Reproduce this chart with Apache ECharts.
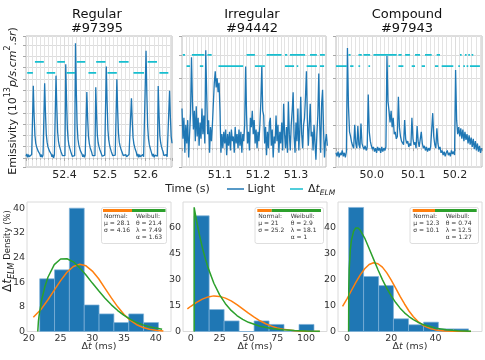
<!DOCTYPE html>
<html><head><meta charset="utf-8">
<script src="https://cdn.jsdelivr.net/npm/echarts@6/dist/echarts.min.js"></script>
<style>html,body{margin:0;padding:0;background:#fff}#c{width:485px;height:360px}</style>
</head><body><div id="c"></div>
<script>
// ================= DATA =================
const panelTitles = ['Regular\n#97395', 'Irregular\n#94442', 'Compound\n#97943'];

// Light emissivity signals (regularly sampled)
const regularT0 = 52.305, regularDt = 0.002;
const regularLight = [0.15,0.35,0.05,0.3,0.1,0.25,0.0,0.3,0.15,
 6.40,3.8,2.0,1.3,1.0,0.8,0.6,0.45,0.35,
 0.1,0.3,0.05,0.25,0.15,
 6.62,4.0,2.1,1.4,1.0,0.8,0.6,0.5,0.35,
 0.1,0.3,0.0,0.25,0.2,
 7.29,4.4,2.3,1.5,1.1,0.85,0.6,0.45,
 0.2,0.35,0.05,0.2,
 8.30,5.0,2.6,1.6,1.1,0.85,0.6,0.45,
 0.15,0.3,0.05,0.2,
 10.16,6.0,3.0,1.7,1.2,0.9,0.65,0.5,0.35,
 0.1,0.3,0.05,0.25,0.15,
 5.85,3.5,1.9,1.3,0.95,0.7,0.5,
 0.2,0.35,0.05,0.2,
 6.26,3.8,2.0,1.35,1.0,0.75,0.55,0.4,
 0.15,0.3,0.0,0.25,0.15,
 8.09,4.9,2.5,1.6,1.15,0.85,0.6,0.45,
 0.2,0.35,0.05,0.25,0.15,
 6.97,4.2,2.2,1.4,1.05,0.8,0.6,0.45,
 0.2,0.35,0.05,0.3,0.1,0.25,0.0,0.3,0.15,0.2,
 5.29,3.3,1.8,1.25,0.95,0.7,0.5,
 0.15,0.35,0.05,0.3,0.1,0.25,0.0,0.3,0.1,0.25,0.15,
 9.50,5.6,2.8,1.7,1.2,0.9,0.65,0.5,
 0.15,0.35,0.05,0.25,0.1,0.3,0.15,
 6.38,3.9,2.0,1.35,1.0,0.75,0.55,
 0.2,0.35,0.05,0.3,0.1,0.25,0.15,
 5.96,3.6,1.9,1.3];

const irregularT0 = 51.0, irregularDt = 0.0025;
const irregularLight = [1.7,0.4,1.3,-0.2,1.0,0.2,1.2,-0.4,0.6,1.5,
 3.9,2.0,0.8,1.6,0.3,1.8,0.5,1.3,0.1,1.1,
 0.4,1.7,0.6,1.4,0.2,4.2,2.3,0.6,1.2,-0.2,
 0.9,0.3,1.0,1.9,2.8,3.3,2.6,3.0,2.4,2.8,
 1.6,-0.2,0.6,0.0,0.7,0.2,0.8,-0.3,0.6,0.1,
 0.7,-0.1,0.8,0.3,0.5,-0.2,0.9,0.2,0.6,0.0,
 0.8,0.1,0.7,-0.2,0.6,0.3,1.0,3.5,1.4,0.2,
 0.7,-0.1,1.3,0.9,1.6,0.6,1.2,0.2,0.8,0.0,
 0.7,0.3,1.0,2.0,3.5,1.6,1.4,0.2,0.9,-0.3,
 0.7,0.0,1.1,1.3,0.1,0.8,-0.4,0.5,0.2,1.4,
 0.3,1.0,-0.2,0.7,0.2,1.1,-0.1,1.9,0.6,0.0,
 0.9,-0.2,2.0,0.6,-0.1,1.0,1.6,2.4,0.5,-0.2,
 1.1,0.3,1.7,-0.1,0.8,2.2,0.6,0.0,1.0,1.3,
 2.2,3.3,1.2,0.1,1.0,1.9,0.5,0.7,-0.1,1.0,
 0.2,-0.5,0.6,1.4,3.2,1.0,-0.2,1.9,2.5,0.8,
 -0.4,0.3,0.6,0.1];

const compoundT0 = 49.914, compoundDt = 0.0025;
const compoundLight = [-0.2,-0.35,-0.15,-0.4,-0.2,-0.3,-0.1,-0.35,-0.2,-0.4,-0.15,
 4.3,1.8,0.7,0.5,0.25,0.1,0.0,
 1.0,0.2,0.0,0.95,0.15,0.0,1.05,0.2,0.05,-0.05,0.1,-0.1,0.05,
 2.3,0.7,0.3,0.1,-0.05,
 0.05,-0.15,0.0,-0.2,0.05,-0.1,0.0,-0.2,0.05,-0.15,0.0,-0.1,0.05,
 3.95,2.0,1.6,1.1,1.6,0.9,1.3,0.6,0.7,0.4,0.5,
 2.2,0.9,0.5,0.3,0.35,0.15,
 1.2,0.4,0.2,0.3,0.05,0.2,0.1,
 1.3,0.4,0.15,0.25,0.0,
 0.95,0.3,0.05,0.1,0.7,0.2,0.0,0.1,-0.1,0.05,-0.15,0.0,-0.1,0.05,0.1,
 1.5,0.5,0.15,0.0,0.85,0.2,-0.05,0.05,
 -0.2,-0.1,-0.3,-0.15,-0.35,-0.2,-0.1,-0.3,-0.2,-0.35,-0.1,-0.25,-0.15,-0.3,
 3.35,1.2,0.6,0.9,0.5,0.85,0.4,0.8,0.3,0.7,0.35,0.6,0.2,0.55,0.15,0.45,0.05,0.4,-0.05,0.3,-0.1,0.2,-0.15,0.1,-0.2,0.0];

// Delta t_ELM markers: [start, end] times at two levels
const regularDtLevels = [8.5, 7.53];
const regularDtUpper = [[52.327,52.349],[52.382,52.401],[52.430,52.451],[52.478,52.501],[52.534,52.558],[52.605,52.628]];
const regularDtLower = [[52.308,52.322],[52.356,52.377],[52.405,52.426],[52.459,52.478],[52.506,52.529],[52.570,52.596],[52.634,52.656]];
const irregularDtLevels = [4.0, 3.52];
const irregularDtUpper = [[51.002,51.008],[51.026,51.059],[51.067,51.078],[51.170,51.192],[51.223,51.262],[51.271,51.277],[51.284,51.324],[51.337,51.355],[51.363,51.376]];
const irregularDtLower = [[51.012,51.021],[51.047,51.056],[51.096,51.161],[51.192,51.218],[51.271,51.295],[51.302,51.306],[51.328,51.355],[51.363,51.374]];
const compoundDtLevels = [4.0, 3.52];
const compoundDtUpper = [[49.944,49.949],[49.968,49.976],[49.980,49.996],[50.004,50.060],[50.064,50.072],[50.080,50.092],[50.104,50.116],[50.128,50.144],[50.156,50.164],[50.212,50.216],[50.224,50.228],[50.232,50.236],[50.240,50.244]];
const compoundDtLower = [[49.914,49.940],[49.948,49.956],[49.968,49.972],[49.992,49.996],[50.040,50.044],[50.064,50.076],[50.096,50.104],[50.120,50.128],[50.152,50.160],[50.168,50.196],[50.208,50.212],[50.220,50.224],[50.228,50.232],[50.236,50.260]];

// Histograms (bin edges in ms, density %)
const regularEdges = [21.7,24.04,26.38,28.72,31.06,33.4,35.74,38.08,40.42];
const regularHist = [17.1,20.0,40.0,8.6,5.7,2.9,5.7,2.9];
const irregularEdges = [2.9,15.9,28.9,41.9,54.9,67.9,80.9,93.9,106.9];
const irregularHist = [66.9,12.7,6.1,0,6.1,4.1,0,4.1];
const compoundEdges = [0.74,7.5,14.3,21.0,27.8,34.6,41.3,48.1,54.9];
const compoundHist = [47.8,21.2,17.7,4.9,2.6,3.6,1.0,1.0];

// Fitted curves: [dt, density]
const regularNormal = [[20.7,4.6],[21,5.1],[22,7.4],[23,10.3],[24,13.4],[25,16.5],[26,19.2],[27,21.1],[28,21.8],[29,21.3],[30,19.6],[31,17.1],[32,14.0],[33,10.9],[34,8.0],[35,5.5],[36,3.6],[37,2.2],[38,1.3],[39,0.7],[40,0.4],[41.2,0.15]];
const regularWeibull = [[21.4,0],[21.5,3.3],[21.6,5.1],[22,10.1],[22.5,14.4],[23,17.6],[24,21.7],[25,23.5],[26,23.6],[27,22.6],[28,20.7],[29,18.3],[30,15.7],[31,13.2],[32,10.8],[33,8.65],[34,6.8],[35,5.2],[36,3.95],[37,2.9],[38,2.15],[39,1.55],[40,1.1],[41,0.76]];
const irregularNormal = [[-3,13.1],[0,14.6],[5,16.8],[10,18.7],[15,20.0],[20,20.6],[25,20.3],[30,19.3],[35,17.7],[40,15.5],[45,13.1],[50,10.6],[55,8.3],[60,6.2],[65,4.5],[70,3.1],[75,2.07],[80,1.33],[90,0.48],[100,0.15],[112,0.03]];
const irregularWeibull = [[2.9,0],[2.9,71.8],[5,63.9],[7.5,55.7],[10,48.5],[12.5,42.3],[15,36.8],[20,27.9],[25,21.2],[30,16.1],[35,12.2],[40,9.24],[45,7.0],[50,5.32],[60,3.06],[70,1.76],[80,1.01],[90,0.58],[100,0.34],[112,0.17]];
const compoundNormal = [[-2,9.7],[0,12.6],[2,15.8],[4,18.9],[6,21.8],[8,24.2],[10,25.8],[12,26.5],[14,26.1],[16,24.8],[18,22.6],[20,19.8],[22,16.7],[24,13.5],[26,10.6],[28,7.9],[30,5.7],[32,3.95],[34,2.6],[36,1.7],[38,1.04],[40,0.62],[44,0.19],[48,0.05],[56,0.0]];
const compoundWeibull = [[0.74,0],[0.8,16.3],[1,24.0],[1.5,31.4],[2,35.1],[3,38.7],[4,39.9],[5,39.9],[6,39.0],[8,36.0],[10,32.0],[12,27.9],[14,23.8],[16,20.0],[18,16.6],[20,13.7],[22,11.15],[24,9.0],[26,7.2],[28,5.76],[30,4.55],[32,3.58],[35,2.47],[40,1.30],[45,0.66],[50,0.33],[56,0.14]];

// Fit parameters shown in the boxes
const normalMu = ['28.1','21','12.3'];
const normalSigma = ['4.16','25.2','10.1'];
const weibullTheta = ['21.4','2.9','0.74'];
const weibullLambda = ['7.49','18.1','12.5'];
const weibullAlpha = ['1.63','1','1.27'];

// ================= CHART =================
const FONT = 'DejaVu Sans';
const BLUE = '#1f77b4', ORANGE = '#ff7f0e', GREEN = '#2ca02c', CYAN = '#17becf';

const topGrids = [
  {left: 26, top: 36, width: 146, height: 131},
  {left: 182, top: 36, width: 144, height: 131},
  {left: 336, top: 36, width: 146, height: 131}];
const botGrids = [
  {left: 27, top: 202, width: 144, height: 129.5},
  {left: 183, top: 202, width: 144, height: 129.5},
  {left: 338, top: 202, width: 144, height: 129.5}];

function fmt(step, dec, lo, hi) {
  return v => {
    const r = v / step;
    if (Math.abs(r - Math.round(r)) > 1e-6) return '';
    if (lo != null && v < lo - 1e-9) return '';
    if (hi != null && v > hi + 1e-9) return '';
    return Number(v).toFixed(dec);
  };
}
function topX(i, min, max, lo, hi) {
  return {type: 'value', gridIndex: i, min, max, minInterval: 0.1, maxInterval: 0.1,
    axisLine: {show: false},
    axisTick: {show: true, length: 3, lineStyle: {color: '#a8a8a8'}},
    minorTick: {show: true, splitNumber: 10, length: 2, lineStyle: {color: '#bcbcbc'}},
    splitLine: {show: true, lineStyle: {color: '#dcdcdc', width: 1}},
    minorSplitLine: {show: true, lineStyle: {color: '#e3e3e3', width: 1}},
    axisLabel: {color: '#262626', fontSize: 11, fontFamily: FONT, margin: 3, formatter: fmt(0.1, 1, lo, hi)}};
}
function topY(i, min, max) {
  return {type: 'value', gridIndex: i, min, max, minInterval: 1, maxInterval: 1,
    axisLine: {show: false}, axisLabel: {show: false},
    axisTick: {show: true, length: 3, lineStyle: {color: '#a8a8a8'}},
    splitLine: {show: true, lineStyle: {color: '#dcdcdc'}}};
}
function botX(i, min, max, step, lo, hi) {
  return {type: 'value', gridIndex: i, min, max, minInterval: step, maxInterval: step,
    axisLine: {show: false}, axisTick: {show: false}, splitLine: {show: false},
    axisLabel: {color: '#333', fontSize: 9.5, fontFamily: FONT, margin: 2, formatter: fmt(step, 0, lo, hi)}};
}
function botY(i, max, step) {
  return {type: 'value', gridIndex: i, min: 0, max, minInterval: step, maxInterval: step,
    axisLine: {show: false}, axisTick: {show: false}, splitLine: {show: false},
    axisLabel: {color: '#333', fontSize: 9.5, fontFamily: FONT, margin: 2, formatter: fmt(step, 0)}};
}
function lightSeries(i, t0, dt, vals) {
  return {type: 'line', xAxisIndex: i, yAxisIndex: i, symbol: 'none', clip: true,
    data: vals.map((v, k) => [t0 + k * dt, v]),
    lineStyle: {color: BLUE, width: 1.3}, z: 3};
}
function dtSeries(i, segsUpper, segsLower, levels) {
  const d = [];
  segsUpper.forEach(s => { d.push([s[0], levels[0]], [s[1], levels[0]], [s[1], '-']); });
  segsLower.forEach(s => { d.push([s[0], levels[1]], [s[1], levels[1]], [s[1], '-']); });
  return {type: 'line', xAxisIndex: i, yAxisIndex: i, symbol: 'none', clip: true, connectNulls: false,
    data: d, lineStyle: {color: CYAN, width: 1.8}, z: 4};
}
function histSeries(i, edges, hist) {
  const d = hist.map((h, k) => [edges[k], edges[k + 1], h]);
  return {type: 'custom', xAxisIndex: i, yAxisIndex: i, data: d, encode: {x: [0, 1], y: 2}, z: 2,
    renderItem: (params, api) => {
      const p0 = api.coord([api.value(0), api.value(2)]);
      const p1 = api.coord([api.value(1), 0]);
      return {type: 'rect', shape: {x: p0[0], y: p0[1], width: p1[0] - p0[0], height: p1[1] - p0[1]},
        style: {fill: BLUE, stroke: '#7fb2d8', lineWidth: 0.7}};
    }};
}
function curveSeries(i, data, color) {
  return {type: 'line', xAxisIndex: i, yAxisIndex: i, symbol: 'none', clip: true, data,
    lineStyle: {color, width: 1.5}, z: 5};
}

const xAxis = [
  topX(0, 52.305, 52.665), topX(1, 51.0, 51.379, 51.05), topX(2, 49.914, 50.265),
  botX(3, 19.7, 42.4, 5), botX(4, -6.8, 118.2, 25), botX(5, -4.06, 61.0, 20, null, 50)];
const yAxis = [
  topY(0, -0.8, 10.8), topY(1, -0.81, 4.81), topY(2, -0.81, 4.81),
  botY(3, 42, 8), botY(4, 74.9, 15), botY(5, 49.9, 10)];

const series = [
  lightSeries(0, regularT0, regularDt, regularLight),
  lightSeries(1, irregularT0, irregularDt, irregularLight),
  lightSeries(2, compoundT0, compoundDt, compoundLight),
  dtSeries(0, regularDtUpper, regularDtLower, regularDtLevels),
  dtSeries(1, irregularDtUpper, irregularDtLower, irregularDtLevels),
  dtSeries(2, compoundDtUpper, compoundDtLower, compoundDtLevels),
  histSeries(3, regularEdges, regularHist),
  histSeries(4, irregularEdges, irregularHist),
  histSeries(5, compoundEdges, compoundHist),
  curveSeries(3, regularNormal, ORANGE), curveSeries(3, regularWeibull, GREEN),
  curveSeries(4, irregularNormal, ORANGE), curveSeries(4, irregularWeibull, GREEN),
  curveSeries(5, compoundNormal, ORANGE), curveSeries(5, compoundWeibull, GREEN)];

const graphic = [];
// titles
[97, 252, 407].forEach((cx, k) => graphic.push({type: 'text', x: cx, y: 22,
  style: {text: panelTitles[k], fontSize: 13, fontFamily: FONT, lineHeight: 14, fill: '#111', align: 'center', verticalAlign: 'middle'}}));
// top y label
graphic.push({type: 'text', x: 13, y: 101, rotation: Math.PI / 2,
  style: {text: '{n|Emissivity (10}{sup|13}{it|p/s.cm}{sup|2}{it|.sr}{n|)}', align: 'center', verticalAlign: 'middle',
    rich: {n: {fontSize: 11, fontFamily: FONT, fill: '#222', lineHeight: 18},
           it: {fontSize: 11, fontFamily: FONT, fontStyle: 'italic', fill: '#222', lineHeight: 18},
           sup: {fontSize: 8, fontFamily: FONT, fill: '#222', verticalAlign: 'top', lineHeight: 9}}}});
// Time (s) + legend
graphic.push({type: 'text', x: 187.5, y: 189, style: {text: 'Time (s)', fontSize: 11, fontFamily: FONT, fill: '#222', align: 'center', verticalAlign: 'middle'}});
graphic.push({type: 'line', shape: {x1: 227, y1: 189, x2: 244, y2: 189}, style: {stroke: BLUE, lineWidth: 1.5}});
graphic.push({type: 'text', x: 247.5, y: 189, style: {text: 'Light', fontSize: 11, fontFamily: FONT, fill: '#222', align: 'left', verticalAlign: 'middle'}});
graphic.push({type: 'line', shape: {x1: 290, y1: 189, x2: 303, y2: 189}, style: {stroke: CYAN, lineWidth: 1.5}});
graphic.push({type: 'text', x: 308, y: 189, style: {text: '{n|Δ}{it|t}{sub|ELM}', align: 'left', verticalAlign: 'middle',
  rich: {n: {fontSize: 11, fontFamily: FONT, fill: '#222', lineHeight: 16},
         it: {fontSize: 11, fontFamily: FONT, fontStyle: 'italic', fill: '#222', lineHeight: 16},
         sub: {fontSize: 7.5, fontFamily: FONT, fontStyle: 'italic', fill: '#222', verticalAlign: 'bottom', lineHeight: 9}}}});
// bottom y label
graphic.push({type: 'text', x: 8, y: 251, rotation: Math.PI / 2,
  style: {text: '{b|Δ}{bi|t}{bs|ELM}{n| Density (%)}', align: 'center', verticalAlign: 'middle',
    rich: {b: {fontSize: 12, fontFamily: FONT, fill: '#222', lineHeight: 15},
           bi: {fontSize: 12, fontFamily: FONT, fontStyle: 'italic', fill: '#222', lineHeight: 15},
           bs: {fontSize: 8, fontFamily: FONT, fontStyle: 'italic', fill: '#222', verticalAlign: 'bottom', lineHeight: 9},
           n: {fontSize: 8.5, fontFamily: FONT, fill: '#222', lineHeight: 15}}}});
// bottom x labels
[99, 255, 410].forEach(cx => graphic.push({type: 'text', x: cx, y: 346.5,
  style: {text: '{n|Δ}{it|t}{n| (ms)}', align: 'center', verticalAlign: 'middle',
    rich: {n: {fontSize: 9.5, fontFamily: FONT, fill: '#333'}, it: {fontSize: 9.5, fontFamily: FONT, fontStyle: 'italic', fill: '#333'}}}}));
// stat boxes
const boxes = [
  {x: 101.5, w: 65, o1: 103, s: 132, g2: 165.5, nx: 104, wx: 136},
  {x: 255, w: 68.5, o1: 257.3, s: 271.7, g2: 321, nx: 258.3, wx: 290.7},
  {x: 410, w: 68.5, o1: 412.7, s: 435, g2: 476.7, nx: 413.3, wx: 445.7}];
boxes.forEach((b, k) => {
  const y = 207.5;
  graphic.push({type: 'rect', shape: {x: b.x, y, width: b.w, height: 36, r: 2}, style: {fill: 'rgba(255,255,255,0.85)', stroke: '#d6d6d6', lineWidth: 0.8}, z: 100});
  graphic.push({type: 'line', shape: {x1: b.o1, y1: y + 3, x2: b.s, y2: y + 3}, style: {stroke: ORANGE, lineWidth: 3}, z: 101});
  graphic.push({type: 'line', shape: {x1: b.s, y1: y + 3, x2: b.g2, y2: y + 3}, style: {stroke: GREEN, lineWidth: 3}, z: 101});
  graphic.push({type: 'text', x: b.nx, y: y + 5.5, z: 101,
    style: {text: 'Normal:\nμ = ' + normalMu[k] + '\nσ = ' + normalSigma[k], fontSize: 6, fontFamily: FONT, lineHeight: 7, fill: '#333', align: 'left', verticalAlign: 'top'}});
  graphic.push({type: 'text', x: b.wx, y: y + 5.5, z: 101,
    style: {text: 'Weibull:\nθ = ' + weibullTheta[k] + '\nλ = ' + weibullLambda[k] + '\nα = ' + weibullAlpha[k], fontSize: 6, fontFamily: FONT, lineHeight: 7, fill: '#333', align: 'left', verticalAlign: 'top'}});
});

const option = {
  animation: false,
  backgroundColor: '#fff',
  textStyle: {fontFamily: FONT},
  grid: [
    ...topGrids.map(g => Object.assign({show: true, borderColor: '#bdbdbd', borderWidth: 1}, g)),
    ...botGrids.map(g => Object.assign({show: true, borderColor: '#dadada', borderWidth: 1}, g))],
  xAxis, yAxis, series, graphic
};
const chart = echarts.init(document.getElementById('c'), null, {renderer: 'canvas'});
chart.setOption(option);
</script></body></html>
